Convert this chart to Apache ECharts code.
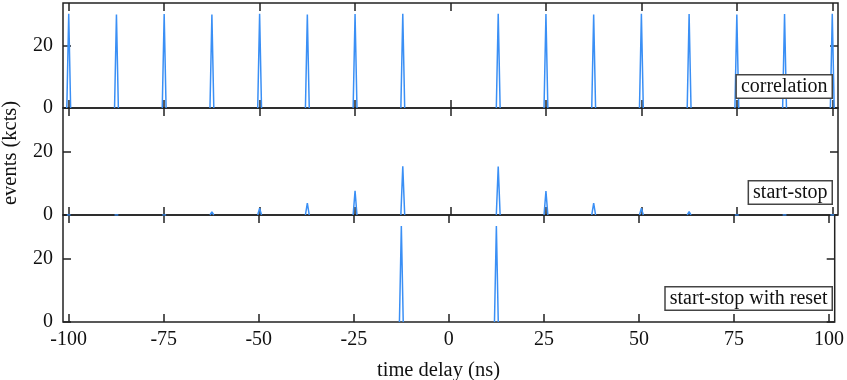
<!DOCTYPE html>
<html>
<head>
<meta charset="utf-8">
<script src="https://cdn.jsdelivr.net/npm/echarts@6/dist/echarts.min.js"></script>
<style>
  html, body { margin: 0; padding: 0; background: #fff; }
  #chart { width: 847px; height: 380px; }
</style>
</head>
<body>
<div id="chart"></div>
<script>
// peak positions (ns) and heights (kcts)
var peakTimes = [-100, -87.5, -75, -62.5, -50, -37.5, -25, -12.5, 12.5, 25, 37.5, 50, 62.5, 75, 87.5, 100];
var correlation = [30.5, 30.3, 30.4, 30.3, 30.5, 30.3, 30.4, 30.5, 30.5, 30.4, 30.3, 30.5, 30.4, 30.3, 30.4, 30.5];
var startStop = [0.1, 0.2, 0.3, 1.0, 2.2, 3.8, 7.7, 15.5, 15.4, 7.6, 3.8, 2.2, 1.1, 0.4, 0.2, 0.1];
var startStopReset = [0, 0, 0, 0, 0, 0, 0, 30.5, 30.5, 0, 0, 0, 0, 0, 0, 0];
var panelNames = ['correlation', 'start-stop', 'start-stop with reset'];
var xTicks = [-100, -75, -50, -25, 0, 25, 50, 75, 100];
var yTicks = [0, 20];

var FONT = '"Liberation Serif", "DejaVu Serif", serif';
var DARK = '#222';
var BLUE = '#3a8ff5';
var halfWidth = 0.5;

function peaks(heights) {
  var out = [];
  peakTimes.forEach(function (t, i) {
    if (!heights[i]) return;
    out.push([t - halfWidth, 0], [t, heights[i]], [t + halfWidth, 0], [t + halfWidth, null]);
  });
  return out;
}

var panels = [correlation, startStop, startStopReset];
var gridTops = [3, 108, 215];
var gridHeights = [105, 107, 107];
var labelTops = [74, 180, 286];

var tick = { inside: true, length: 8, lineStyle: { color: DARK, width: 1.5 } };

var grids = [], xAxes = [], yAxes = [], series = [], graphics = [];

panels.forEach(function (values, i) {
  grids.push({
    left: 63, right: 9, top: gridTops[i], height: gridHeights[i],
    show: true, borderColor: DARK, borderWidth: 1.5
  });
  ['bottom', 'top'].forEach(function (pos) {
    xAxes.push({
      type: 'value', gridIndex: i, position: pos, min: -101.5, max: 101.5,
      axisLine: { show: false, onZero: false }, splitLine: { show: false },
      axisTick: Object.assign({ customValues: xTicks }, tick),
      axisLabel: {
        show: i === 2 && pos === 'bottom', customValues: xTicks,
        fontFamily: FONT, fontSize: 20, color: '#111', margin: 8
      }
    });
  });
  ['left', 'right'].forEach(function (pos) {
    yAxes.push({
      type: 'value', gridIndex: i, position: pos, min: 0, max: 34,
      axisLine: { show: false, onZero: false }, splitLine: { show: false },
      axisTick: Object.assign({ customValues: yTicks }, tick),
      axisLabel: {
        show: pos === 'left', customValues: yTicks,
        fontFamily: FONT, fontSize: 20, color: '#111', margin: 10
      }
    });
  });
  series.push({
    type: 'line', xAxisIndex: 2 * i, yAxisIndex: 2 * i,
    data: peaks(values), showSymbol: false, connectNulls: false,
    lineStyle: { color: BLUE, width: 1.5 }, animation: false
  });
  graphics.push({
    type: 'text', right: 14, top: labelTops[i], z: 100,
    style: {
      text: panelNames[i], font: '20px ' + FONT, fill: '#111',
      backgroundColor: '#fff', borderColor: '#444', borderWidth: 1.5,
      padding: [1, 4, 1, 4], lineHeight: 20
    }
  });
});

graphics.push({
  type: 'text', left: 377, top: 360,
  style: { text: 'time delay (ns)', font: '20.5px ' + FONT, fill: '#111' }
});
graphics.push({
  type: 'text', x: 0, y: 205, rotation: Math.PI / 2,
  style: { text: 'events (kcts)', font: '20.5px ' + FONT, fill: '#111' }
});

var myChart = echarts.init(document.getElementById('chart'));
myChart.setOption({
  animation: false,
  grid: grids,
  xAxis: xAxes,
  yAxis: yAxes,
  series: series,
  graphic: graphics
});
</script>
</body>
</html>
